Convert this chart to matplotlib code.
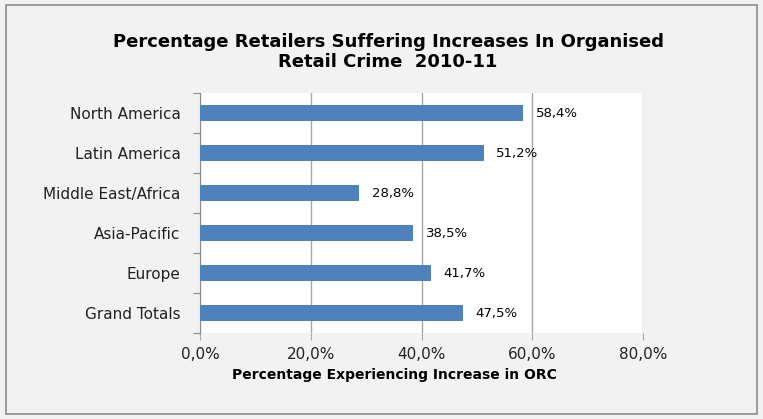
import matplotlib.pyplot as plt
from matplotlib.patches import Rectangle
import numpy as np

regions = ['North America', 'Latin America', 'Middle East/Africa',
           'Asia-Pacific', 'Europe', 'Grand Totals']
pct = [58.4, 51.2, 28.8, 38.5, 41.7, 47.5]
xticks = [0, 20, 40, 60, 80]

plt.rcParams['font.family'] = ['DejaVu Sans']

W, H = 763, 419
fig = plt.figure(figsize=(W / 100, H / 100), dpi=100)
fig.patch.set_facecolor('#f2f2f2')
# outer chart frame
fig.patches.append(Rectangle((6 / W, 5 / H), 751 / W, 409 / H, transform=fig.transFigure,
                             fill=False, edgecolor='#8c8c8c', linewidth=1.2))

ax = fig.add_axes([200 / W, 86 / H, 443 / W, 240 / H])
ax.set_facecolor('white')

ypos = np.arange(len(regions))
ax.barh(ypos, pct, height=0.4, color='#4f81bd', zorder=3)
for i, v in enumerate(pct):
    ax.text(v + 2.3, i, ('%.1f%%' % v).replace('.', ','), va='center', ha='left',
            fontsize=9.5, color='black', zorder=4)

ax.set_xlim(0, 80)
ax.set_ylim(len(regions) - 0.5, -0.5)
ax.set_xticks(xticks)
ax.set_xticklabels([('%.1f%%' % t).replace('.', ',') for t in xticks], fontsize=11, color='#222222')
ax.xaxis.grid(True, color='#a6a6a6', linewidth=1, zorder=0)

ax.set_yticks(np.arange(len(regions) + 1) - 0.5)
ax.set_yticklabels([])
ax.set_yticks(ypos, minor=True)
ax.set_yticklabels(regions, minor=True, fontsize=11, color='#222222')
ax.tick_params(axis='y', which='minor', length=0, pad=14)
ax.tick_params(axis='y', which='major', length=5, color='#8c8c8c')
ax.tick_params(axis='x', length=5, color='#a6a6a6', pad=5)

for s in ['top', 'right', 'bottom']:
    ax.spines[s].set_visible(False)
ax.spines['left'].set_color('#8c8c8c')

fig.text(388 / W, 1 - 52 / H, 'Percentage Retailers Suffering Increases In Organised\nRetail Crime  2010-11',
         ha='center', va='center', fontsize=13, fontweight='bold', linespacing=1.15)
fig.text(394 / W, 1 - 375 / H, 'Percentage Experiencing Increase in ORC',
         ha='center', va='center', fontsize=10, fontweight='bold')

fig.savefig('out.png', dpi=100, facecolor=fig.get_facecolor())
